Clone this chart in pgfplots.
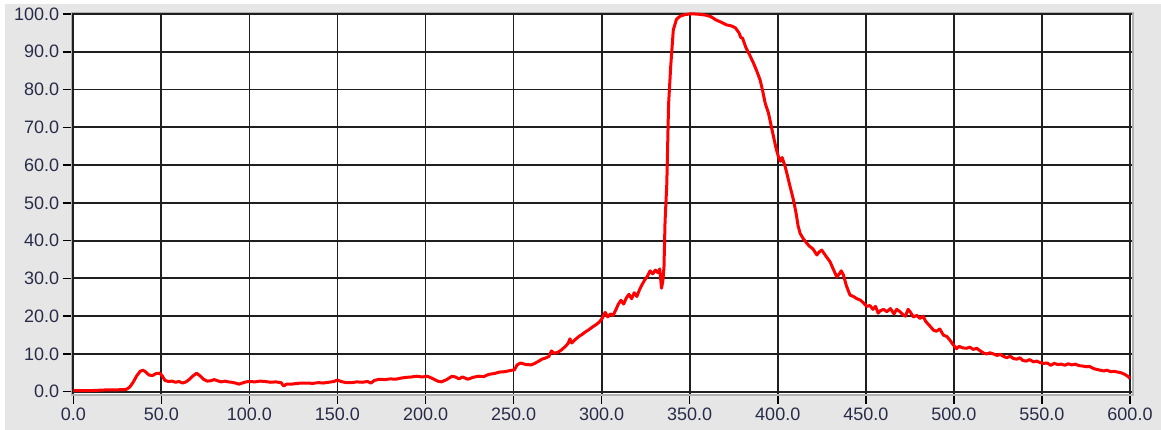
\documentclass[border=0pt]{standalone}
\usepackage{pgfplots}
\pgfplotsset{compat=1.18}
\usepackage{fontspec}
\setmainfont{Liberation Sans}
\definecolor{bg}{RGB}{230,230,230}
\definecolor{lbl}{RGB}{40,44,72}
\begin{document}
\begin{tikzpicture}
  % window background
  \fill[bg] (-71.7pt,-35pt) rectangle (1089.3pt,395pt);
  \fill[white] (-71.7pt,391pt) rectangle (1089.3pt,395pt);
  \fill[white] (-71.7pt,-35pt) rectangle (-66.7pt,395pt);
  \path[use as bounding box] (-71.7pt,-35pt) rectangle (1089.3pt,395pt);
  \begin{axis}[
      at={(0pt,0pt)}, anchor=south west,
      scale only axis,
      width=1061.3pt, height=382.3pt,
      xmin=-0.9, xmax=601.7,
      ymin=-0.87, ymax=100.34,
      xtick={0,50,...,600},
      ytick={0,10,...,100},
      xtick pos=bottom, ytick pos=left,
      tick align=outside,
      major tick length=9pt,
      tick style={black, line width=1.5pt},
      grid=major,
      major grid style={black!88, line width=1.8pt},
      axis line style={gray!60, line width=1.2pt},
      axis background/.style={fill=white},
      /pgf/number format/.cd, fixed, fixed zerofill, precision=1,
        assume math mode=true,
      /pgfplots/.cd,
      tick label style={font=\fontsize{18}{18}\selectfont, text=lbl},
    ]
    \addplot[red, line width=3pt, line join=round] coordinates {
      (0,0.3)(5,0.3)(10,0.3)(15,0.4)(20,0.5)(25,0.5)(30,0.6)(32,1.2)(34,2.5)
      (36,4.2)(38,5.4)(39.5,5.7)(41,5.3)(43,4.4)(45,4.3)(47,4.8)(49,4.9)
      (50.5,4.2)(52,3.0)(54,2.7)(56,2.8)(58,2.5)(60,2.7)(62,2.3)(64,2.6)
      (66,3.3)(68,4.2)(70,4.9)(72,4.2)(74,3.3)(76,2.8)(78,2.9)(80,3.2)
      (82,2.9)(84,2.6)(86,2.8)(88,2.6)(90,2.5)(92,2.3)(94,2.0)(96,2.3)
      (98,2.6)(100,2.7)(103,2.6)(106,2.8)(109,2.7)(112,2.5)(115,2.6)(118,2.4)
      (119.5,1.5)(121,2.0)(124,2.0)(127,2.2)(130,2.3)(133,2.3)(136,2.2)
      (139,2.4)(142,2.3)(145,2.5)(148,2.7)(150,3.1)(152,2.7)(155,2.4)
      (158,2.4)(161,2.6)(164,2.5)(167,2.7)(169,2.3)(171,3.0)(174,3.3)
      (177,3.2)(180,3.4)(183,3.3)(186,3.6)(189,3.8)(192,3.9)(195,4.1)
      (198,3.9)(201,4.1)(204,3.5)(207,2.8)(209,2.6)(212,3.2)(215,4.1)
      (217,3.9)(219,3.4)(221,3.9)(224,3.3)(227,3.8)(230,4.1)(233,4.0)
      (236,4.6)(239,4.8)(242,5.2)(245,5.3)(248,5.6)(250.5,5.8)(252,7.1)
      (254,7.6)(257,7.2)(260,7.1)(262,7.5)(264,8.0)(266,8.6)(268,8.9)
      (270,9.3)(271.5,10.8)(273,10.2)(275,10.4)(277,11.0)(279,11.8)(281,12.8)
      (282,14.0)(283,12.9)(285,13.8)(287,14.6)(289,15.2)(291,15.9)(293,16.5)
      (295,17.2)(297,17.8)(299,18.6)(300.5,19.6)(302,21.0)(303.5,19.8)
      (305,20.6)(306.5,20.2)(308,21.6)(309.5,23.2)(311,24.2)(312.5,23.2)
      (314,24.8)(315.5,25.8)(317,24.6)(318.5,26.2)(320,25.2)(321.5,27.0)
      (323,28.4)(324.5,29.6)(326,30.6)(327.5,32.0)(329,31.2)(330.5,32.2)
      (332,31.5)(333,32.5)(334,27.4)(334.8,29.5)(335.4,33)(336,45)(337,55)
      (338,76)(339.2,86)(340.7,95.8)(342.5,98.6)(344.5,99.4)(347,99.8)
      (350,100)(353,100)(356,99.9)(359,99.7)(362,99.3)(365,98.4)(368,97.8)
      (371,97.1)(374,96.8)(376,96.3)(378,95.0)(379,93.8)(380,93.6)(382,91.0)
      (384,89.2)(386,87.2)(388,85.0)(390,82.5)(391.5,79.5)(392.8,76.5)
      (394.7,73.8)(396,71.0)(397.6,67.5)(399,64.5)(400.4,62.2)(401.5,61.0)
      (402.5,62.0)(404.2,59.6)(405.5,57.2)(407,54.3)(408.9,50.8)(410.5,47.0)
      (411.5,44.0)(412.7,41.9)(414.5,40.5)(416.5,39.3)(418,38.5)(420,37.8)
      (422.2,36.2)(423.5,37.0)(425,37.5)(426,36.8)(427.5,35.8)(429.7,34.4)
      (431,33.0)(433.5,30.4)(435,31.2)(436,32.0)(437.3,30.9)(439,28.0)
      (441,25.6)(443,25.2)(445,24.6)(446.7,24.3)(448.5,23.6)(450.5,22.6)
      (452.4,22.8)(454,21.8)(455.5,22.6)(457,20.8)(458.1,21.4)(460,21.8)
      (461.9,21.2)(464,22.0)(466,20.6)(467.5,21.8)(469.4,21.2)(471,20.4)
      (472.5,20.0)(474,21.8)(475.1,21.2)(477,19.8)(479,20.2)(480.8,19.4)
      (482.5,20.0)(484,18.6)(486,17.6)(488.4,16.3)(490,16.0)(492,16.6)
      (494,15.0)(496,14.6)(497.5,13.8)(499.7,12.4)(501.5,11.4)(503,12.0)
      (505,11.6)(507.3,11.5)(509,11.8)(511,11.2)(513,11.5)(515,10.8)
      (517,10.2)(518.7,10.0)(520.5,10.3)(522.5,10.0)(524.5,9.6)(526.3,9.9)
      (528,9.4)(530,9.0)(532,9.4)(533.7,8.8)(535.7,8.6)(537.5,9.0)(539,8.3)
      (541,8.1)(543,8.5)(545.2,7.9)(547,8.1)(549,7.7)(550.9,7.5)(553,7.6)
      (555,7.0)(557,7.5)(559,7.2)(561,7.3)(563,7.0)(565,7.4)(567,7.1)
      (569,7.3)(571,6.9)(573,6.8)(575.5,6.6)(577,6.7)(579,6.2)(581,5.9)
      (583.1,5.7)(585,5.5)(587,5.7)(589,5.3)(591,5.4)(593,5.2)(595,5.0)
      (597,4.6)(599,4.0)(600,3.5)
    };
  \end{axis}
\end{tikzpicture}
\end{document}
